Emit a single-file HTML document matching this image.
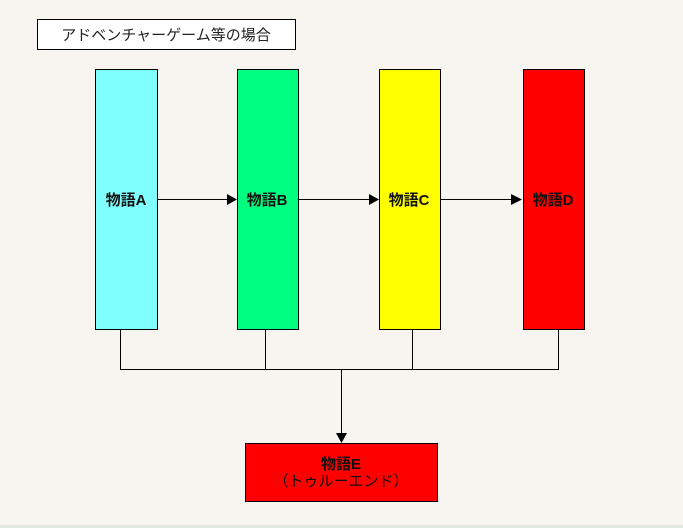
<!DOCTYPE html>
<html><head><meta charset="utf-8"><style>
html,body{margin:0;padding:0;background:#f8f5f0;}
svg{display:block;}
text{font-family:"Liberation Sans","Noto Sans CJK JP",sans-serif;}
</style></head><body>
<svg width="683" height="528" xmlns="http://www.w3.org/2000/svg">
<rect width="683" height="528" fill="#f8f5f0"/>
<rect x="0" y="525" width="683" height="3" fill="#dfe8df"/>
<rect x="37.5" y="19.5" width="258" height="30" fill="#fff" stroke="#000"/>
<text x="166" y="40" font-size="15" text-anchor="middle" fill="#222">アドベンチャーゲーム等の場合</text>
<rect x="95.5" y="69.5" width="62" height="260" fill="#80ffff" stroke="#000"/>
<rect x="237.5" y="69.5" width="61" height="260" fill="#00ff80" stroke="#000"/>
<rect x="379.5" y="69.5" width="61" height="260" fill="#ffff00" stroke="#000"/>
<rect x="523.5" y="69.5" width="61" height="260" fill="#ff0000" stroke="#000"/>
<g stroke="#000" fill="none">
<line x1="157" y1="199.5" x2="230" y2="199.5"/>
<line x1="298" y1="199.5" x2="372" y2="199.5"/>
<line x1="440" y1="199.5" x2="516" y2="199.5"/>
<polyline points="120.5,330 120.5,369.5 558.5,369.5 558.5,330"/>
<line x1="265.5" y1="330" x2="265.5" y2="369"/>
<line x1="412.5" y1="330" x2="412.5" y2="369"/>
<line x1="341.5" y1="369" x2="341.5" y2="434"/>
</g>
<g fill="#000">
<polygon points="227,194 237,199.5 227,205"/>
<polygon points="369,194 379,199.5 369,205"/>
<polygon points="511,194 522,199.5 511,205"/>
<polygon points="336,433 347,433 341.5,443"/>
</g>
<g font-size="15" font-weight="bold" fill="#111" text-anchor="middle">
<text x="126" y="205">物語A</text>
<text x="267" y="205">物語B</text>
<text x="409" y="205">物語C</text>
<text x="553" y="205">物語D</text>
</g>
<rect x="245.5" y="443.5" width="192" height="58" fill="#ff0000" stroke="#000"/>
<text x="341" y="469" font-size="15" font-weight="bold" fill="#111" text-anchor="middle">物語E</text>
<text x="341" y="486" font-size="15" fill="#111" text-anchor="middle">（トゥルーエンド）</text>
</svg>
</body></html>
